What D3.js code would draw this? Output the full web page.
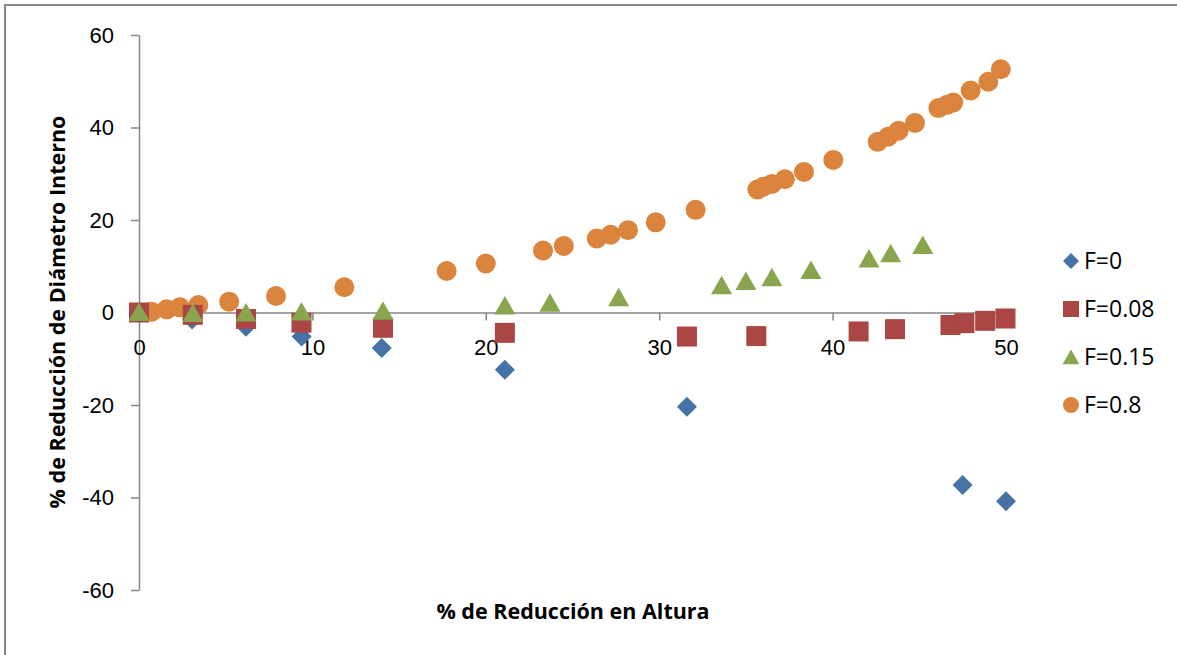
<!DOCTYPE html>
<html>
<head>
<meta charset="utf-8">
<script src="https://cdn.jsdelivr.net/npm/d3@7"></script>
<style>
  body { margin: 0; background: #fff; }
  svg { display: block; font-family: "Open Sans", sans-serif; }
  .axis path, .axis line { stroke: #868686; stroke-width: 1.5; }
  .axis text { font-size: 22px; fill: #000; }
</style>
</head>
<body>
<div id="chart"></div>
<script>
// series: F=0, F=0.08, F=0.15, F=0.8 (x = % reduccion en altura, y = % reduccion diametro interno)
const f0x = [0, 3.06, 6.17, 9.38, 14.0, 21.1, 31.6, 47.5, 50.0];
const f0y = [0, -1.5, -3.1, -5.2, -7.7, -12.4, -20.4, -37.3, -40.8];

const f08x = [0, 3.1, 6.17, 9.37, 14.07, 21.1, 31.6, 35.6, 41.5, 43.6, 46.8, 47.6, 48.8, 49.97];
const f08y = [0, -0.5, -1.4, -2.2, -3.3, -4.4, -5.2, -5.1, -4.1, -3.6, -2.7, -2.3, -1.8, -1.3];

const f15x = [0, 3.1, 6.17, 9.37, 14.07, 21.1, 23.7, 27.66, 33.6, 35.0, 36.5, 38.75, 42.1, 43.35, 45.2];
const f15y = [0.1, -0.1, 0, 0.2, 0.4, 1.5, 2.1, 3.3, 5.9, 6.8, 7.6, 9.2, 11.7, 12.8, 14.6];

const f8x = [0, 0.73, 1.6, 2.36, 3.42, 5.2, 7.9, 11.84, 17.74, 20.0, 23.3, 24.5, 26.4, 27.2, 28.2, 29.8, 32.1,
  35.66, 36.0, 36.5, 37.25, 38.35, 40.04, 42.6, 43.2, 43.8, 44.75, 46.1, 46.6, 46.96, 47.96, 48.98, 49.7];
const f8y = [0, 0.17, 0.69, 1.12, 1.62, 2.35, 3.57, 5.45, 8.97, 10.6, 13.4, 14.4, 16.0, 16.8, 17.8, 19.5, 22.2,
  26.6, 27.2, 27.8, 28.8, 30.4, 33.0, 36.9, 38.0, 39.3, 41.0, 44.2, 44.9, 45.4, 48.0, 49.9, 52.6];

const xTicks = [0, 10, 20, 30, 40, 50];
const yTicks = [-60, -40, -20, 0, 20, 40, 60];

const W = 1177, H = 655;

const svg = d3.select("#chart")
  .append("svg")
  .attr("width", W)
  .attr("height", H);

// outer chart border (runs off the right / bottom edge)
svg.append("rect")
  .attr("x", 5).attr("y", 5)
  .attr("width", 1400).attr("height", 900)
  .attr("fill", "none")
  .attr("stroke", "#878787")
  .attr("stroke-width", 2);

const x = d3.scaleLinear().domain([0, 50]).range([139, 1006]);
const y = d3.scaleLinear().domain([-60, 60]).range([590, 35]);

const fmt = d => String(d);

// y axis
svg.append("g")
  .attr("class", "axis")
  .attr("transform", `translate(${x(0)},0)`)
  .call(d3.axisLeft(y).tickValues(yTicks).tickFormat(fmt).tickSize(8).tickSizeOuter(0).tickPadding(17));

// x axis on y = 0
svg.append("g")
  .attr("class", "axis")
  .attr("transform", `translate(0,${y(0)})`)
  .call(d3.axisBottom(x).tickValues(xTicks).tickFormat(fmt).tickSize(8).tickSizeOuter(0).tickPadding(19));

// marker shapes
const shapes = {
  diamond: "M0,-10L10,0L0,10L-10,0Z",
  square: "M-10,-10H10V10H-10Z",
  triangle: "M0,-9.5L10.5,9L-10.5,9Z",
  circle: d3.symbol().type(d3.symbolCircle).size(Math.PI * 100)()
};

const series = [
  { name: "F=0.8", xs: f8x, ys: f8y, shape: "circle", color: "#DB843D" },
  { name: "F=0", xs: f0x, ys: f0y, shape: "diamond", color: "#4572A7" },
  { name: "F=0.08", xs: f08x, ys: f08y, shape: "square", color: "#AA4643" },
  { name: "F=0.15", xs: f15x, ys: f15y, shape: "triangle", color: "#89A54E" }
];

series.forEach(s => {
  const pts = s.xs.map((v, i) => ({ x: v, y: s.ys[i] }));
  svg.append("g")
    .selectAll("path")
    .data(pts)
    .join("path")
    .attr("d", shapes[s.shape])
    .attr("transform", d => `translate(${x(d.x)},${y(d.y)})`)
    .attr("fill", s.color);
});

// axis titles
svg.append("text")
  .attr("x", 573)
  .attr("y", 619)
  .style("text-anchor", "middle")
  .style("font-size", "21.5px")
  .style("font-weight", "bold")
  .text("% de Reducción en Altura");

svg.append("text")
  .attr("transform", "translate(65,312) rotate(-90)")
  .style("text-anchor", "middle")
  .style("font-size", "21.5px")
  .style("font-weight", "bold")
  .text("% de Reducción de Diámetro Interno");

// legend
const legendOrder = ["F=0", "F=0.08", "F=0.15", "F=0.8"];
const legend = svg.append("g")
  .selectAll("g")
  .data(legendOrder.map(n => series.find(s => s.name === n)))
  .join("g")
  .attr("transform", (d, i) => `translate(1071, ${261 + i * 48})`);

legend.append("path")
  .attr("d", d => shapes[d.shape])
  .attr("transform", "scale(0.8)")
  .attr("fill", d => d.color);

legend.append("text")
  .attr("x", 13)
  .attr("dy", "0.35em")
  .style("font-size", "23px")
  .text(d => d.name);
</script>
</body>
</html>
